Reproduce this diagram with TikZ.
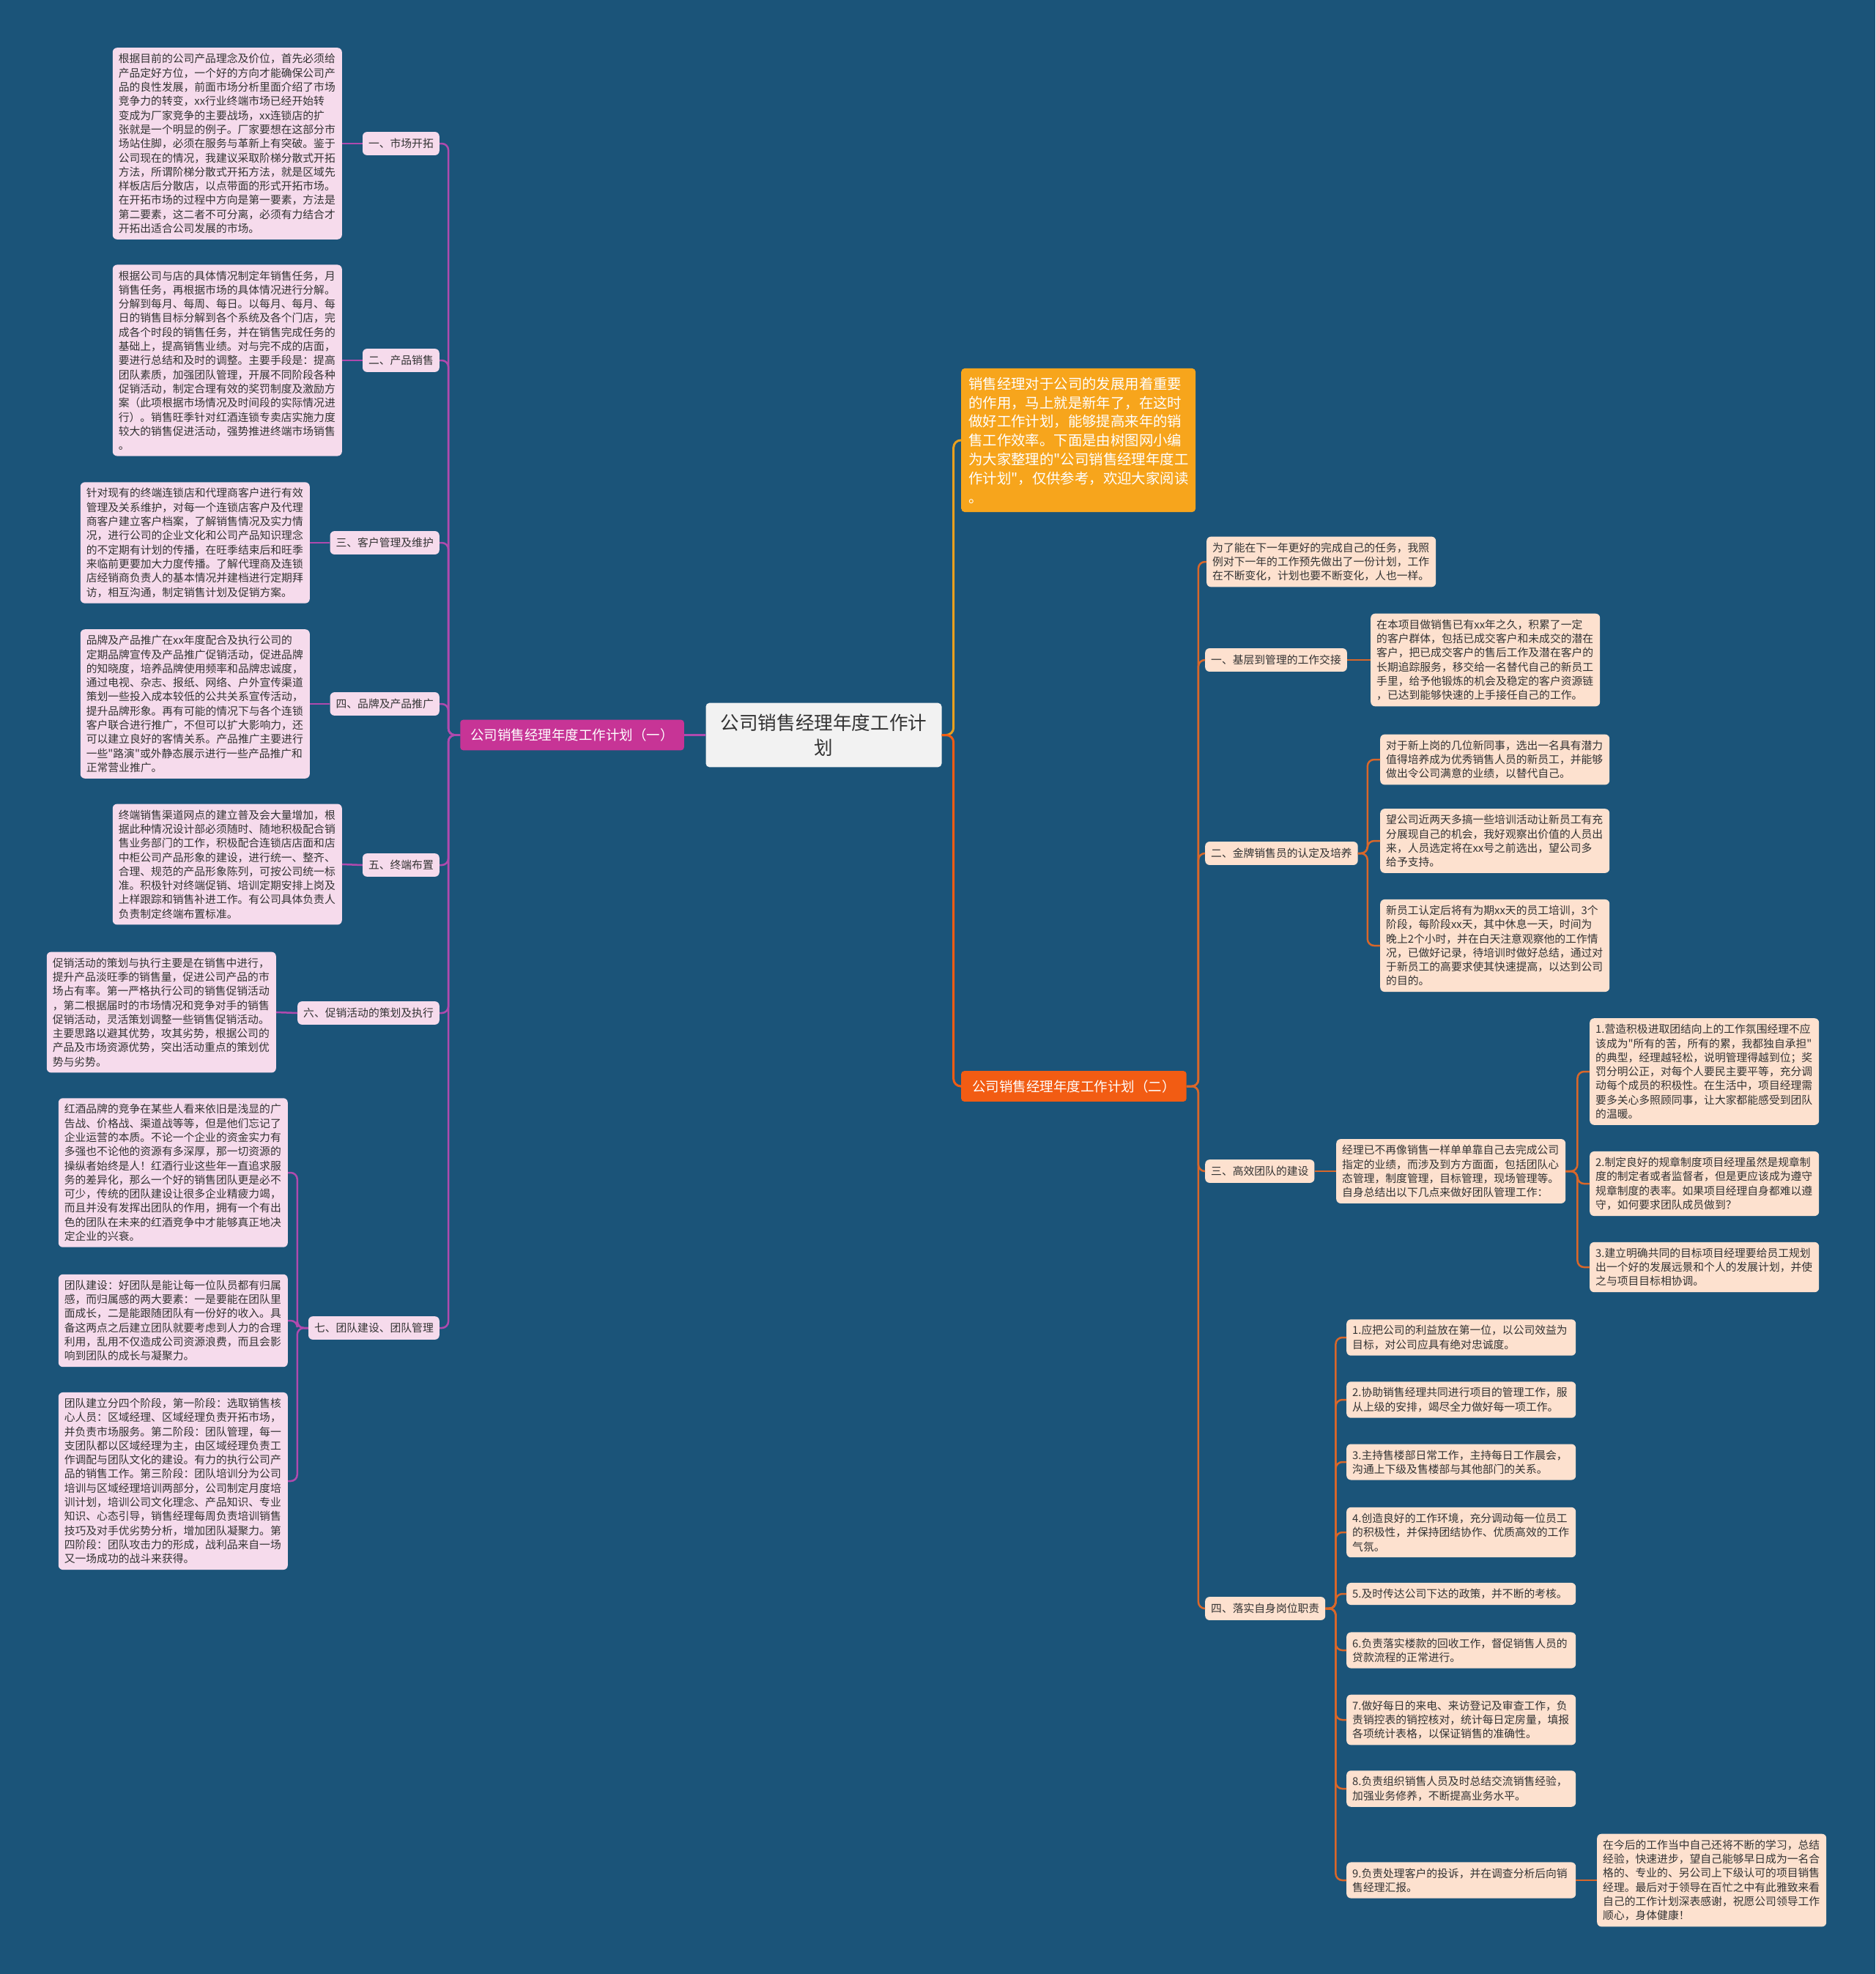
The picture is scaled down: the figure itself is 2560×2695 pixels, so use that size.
\documentclass[tikz,border=0pt]{standalone}
\usepackage{fontspec}
\setmainfont{Noto Sans CJK SC}[Ligatures=TeXOff]
\usetikzlibrary{calc}
\definecolor{bgc}{HTML}{1B5479}
\definecolor{lpink}{HTML}{F6DBEC}
\definecolor{rpeach}{HTML}{FDE1CF}
\definecolor{magbox}{HTML}{C73496}
\definecolor{magline}{HTML}{B04AAE}
\definecolor{orgline}{HTML}{D9672A}
\definecolor{redbox}{HTML}{F25C13}
\definecolor{ylwbox}{HTML}{F7A51C}
\definecolor{ylwline}{HTML}{E9A01E}
\definecolor{ctrbox}{HTML}{F2F2F2}
\definecolor{txtc}{HTML}{333333}
\newcommand\ftxt{\fontsize{14.8pt}{19.3pt}\selectfont}
\newcommand\fmain{\fontsize{18.5pt}{22pt}\selectfont}
\newcommand\fctr{\fontsize{25.6pt}{34pt}\selectfont}
\newcommand\fintro{\fontsize{19.4pt}{25.8pt}\selectfont}
\tikzset{
  ltxt/.style={rectangle, rounded corners=6pt, fill=lpink, text=txtc, align=left, text width=297pt, inner xsep=8pt, inner ysep=8pt, font=\ftxt},
  llab/.style={rectangle, rounded corners=6pt, fill=lpink, text=txtc, inner xsep=8pt, inner ysep=9pt, font=\ftxt},
  rtxt/.style={rectangle, rounded corners=6pt, fill=rpeach, text=txtc, align=left, text width=297pt, inner xsep=8pt, inner ysep=8pt, font=\ftxt},
  rlab/.style={rectangle, rounded corners=6pt, fill=rpeach, text=txtc, inner xsep=8pt, inner ysep=9pt, font=\ftxt},
  lline/.style={draw=magline, line width=2.5pt, rounded corners=9pt},
  rline/.style={draw=orgline, line width=2.5pt, rounded corners=9pt},
}
\begin{document}
\begin{tikzpicture}[x=1pt,y=-1pt]
\fill[bgc] (0,0) rectangle (2560,2695);
\useasboundingbox (0,0) rectangle (2560,2695);

% center and main branches
\node[rectangle, rounded corners=5pt, fill=ctrbox, text=txtc, align=center, text width=282pt, inner xsep=20pt, inner ysep=15pt, font=\fctr] (ctr) at (1124.5,1003.5) {公司销售经理年度工作计\\划};
\node[rectangle, rounded corners=4pt, fill=magbox, text=white, inner xsep=14pt, inner ysep=12pt, font=\fmain, anchor=east] (br1) at (934,1003.5) {公司销售经理年度工作计划（一）};
\node[rectangle, rounded corners=4pt, fill=redbox, text=white, inner xsep=15pt, inner ysep=12pt, font=\fmain, anchor=west] (br2) at (1312,1483) {公司销售经理年度工作计划（二）};
\node[rectangle, rounded corners=5pt, fill=ylwbox, text=white, align=left, text width=300pt, inner xsep=10pt, inner ysep=12pt, font=\fintro, anchor=west] (intro) at (1312,601) {销售经理对于公司的发展用着重要\\的作用，马上就是新年了，在这时\\做好工作计划，能够提高来年的销\\售工作效率。下面是由树图网小编\\为大家整理的"公司销售经理年度工\\作计划"，仅供参考，欢迎大家阅读\\。};

% left labels
\node[llab, anchor=east] (l1) at (600,196) {一、市场开拓};
\node[llab, anchor=east] (l2) at (600,492) {二、产品销售};
\node[llab, anchor=east] (l3) at (600,741) {三、客户管理及维护};
\node[llab, anchor=east] (l4) at (600,961) {四、品牌及产品推广};
\node[llab, anchor=east] (l5) at (600,1181) {五、终端布置};
\node[llab, anchor=east] (l6) at (600,1383) {六、促销活动的策划及执行};
\node[llab, anchor=east] (l7) at (600,1813) {七、团队建设、团队管理};

% left texts
\node[ltxt, anchor=east] (t1) at (467,196) {根据目前的公司产品理念及价位，首先必须给\\产品定好方位，一个好的方向才能确保公司产\\品的良性发展，前面市场分析里面介绍了市场\\竞争力的转变，xx行业终端市场已经开始转\\变成为厂家竞争的主要战场，xx连锁店的扩\\张就是一个明显的例子。厂家要想在这部分市\\场站住脚，必须在服务与革新上有突破。鉴于\\公司现在的情况，我建议采取阶梯分散式开拓\\方法，所谓阶梯分散式开拓方法，就是区域先\\样板店后分散店，以点带面的形式开拓市场。\\在开拓市场的过程中方向是第一要素，方法是\\第二要素，这二者不可分离，必须有力结合才\\开拓出适合公司发展的市场。};
\node[ltxt, anchor=east] (t2) at (467,492) {根据公司与店的具体情况制定年销售任务，月\\销售任务，再根据市场的具体情况进行分解。\\分解到每月、每周、每日。以每月、每月、每\\日的销售目标分解到各个系统及各个门店，完\\成各个时段的销售任务，并在销售完成任务的\\基础上，提高销售业绩。对与完不成的店面，\\要进行总结和及时的调整。主要手段是：提高\\团队素质，加强团队管理，开展不同阶段各种\\促销活动，制定合理有效的奖罚制度及激励方\\案（此项根据市场情况及时间段的实际情况进\\行）。销售旺季针对红酒连锁专卖店实施力度\\较大的销售促进活动，强势推进终端市场销售\\。};
\node[ltxt, anchor=east] (t3) at (423,741) {针对现有的终端连锁店和代理商客户进行有效\\管理及关系维护，对每一个连锁店客户及代理\\商客户建立客户档案，了解销售情况及实力情\\况，进行公司的企业文化和公司产品知识理念\\的不定期有计划的传播，在旺季结束后和旺季\\来临前更要加大力度传播。了解代理商及连锁\\店经销商负责人的基本情况并建档进行定期拜\\访，相互沟通，制定销售计划及促销方案。};
\node[ltxt, anchor=east] (t4) at (423,961) {品牌及产品推广在xx年度配合及执行公司的\\定期品牌宣传及产品推广促销活动，促进品牌\\的知晓度，培养品牌使用频率和品牌忠诚度，\\通过电视、杂志、报纸、网络、户外宣传渠道\\策划一些投入成本较低的公共关系宣传活动，\\提升品牌形象。再有可能的情况下与各个连锁\\客户联合进行推广，不但可以扩大影响力，还\\可以建立良好的客情关系。产品推广主要进行\\一些"路演"或外静态展示进行一些产品推广和\\正常营业推广。};
\node[ltxt, anchor=east] (t5) at (467,1180) {终端销售渠道网点的建立普及会大量增加，根\\据此种情况设计部必须随时、随地积极配合销\\售业务部门的工作，积极配合连锁店店面和店\\中柜公司产品形象的建设，进行统一、整齐、\\合理、规范的产品形象陈列，可按公司统一标\\准。积极针对终端促销、培训定期安排上岗及\\上样跟踪和销售补进工作。有公司具体负责人\\负责制定终端布置标准。};
\node[ltxt, anchor=east] (t6) at (377,1382) {促销活动的策划与执行主要是在销售中进行，\\提升产品淡旺季的销售量，促进公司产品的市\\场占有率。第一严格执行公司的销售促销活动\\，第二根据届时的市场情况和竞争对手的销售\\促销活动，灵活策划调整一些销售促销活动。\\主要思路以避其优势，攻其劣势，根据公司的\\产品及市场资源优势，突出活动重点的策划优\\势与劣势。};
\node[ltxt, anchor=east] (t7a) at (393,1601) {红酒品牌的竞争在某些人看来依旧是浅显的广\\告战、价格战、渠道战等等，但是他们忘记了\\企业运营的本质。不论一个企业的资金实力有\\多强也不论他的资源有多深厚，那一切资源的\\操纵者始终是人！红酒行业这些年一直追求服\\务的差异化，那么一个好的销售团队更是必不\\可少，传统的团队建设让很多企业精疲力竭，\\而且并没有发挥出团队的作用，拥有一个有出\\色的团队在未来的红酒竞争中才能够真正地决\\定企业的兴衰。};
\node[ltxt, anchor=east] (t7b) at (393,1803) {团队建设：好团队是能让每一位队员都有归属\\感，而归属感的两大要素：一是要能在团队里\\面成长，二是能跟随团队有一份好的收入。具\\备这两点之后建立团队就要考虑到人力的合理\\利用，乱用不仅造成公司资源浪费，而且会影\\响到团队的成长与凝聚力。};
\node[ltxt, anchor=east] (t7c) at (393,2022) {团队建立分四个阶段，第一阶段：选取销售核\\心人员：区域经理、区域经理负责开拓市场，\\并负责市场服务。第二阶段：团队管理，每一\\支团队都以区域经理为主，由区域经理负责工\\作调配与团队文化的建设。有力的执行公司产\\品的销售工作。第三阶段：团队培训分为公司\\培训与区域经理培训两部分，公司制定月度培\\训计划，培训公司文化理念、产品知识、专业\\知识、心态引导，销售经理每周负责培训销售\\技巧及对手优劣势分析，增加团队凝聚力。第\\四阶段：团队攻击力的形成，战利品来自一场\\又一场成功的战斗来获得。};

% right side
\node[rtxt, anchor=west] (r0) at (1647,767) {为了能在下一年更好的完成自己的任务，我照\\例对下一年的工作预先做出了一份计划，工作\\在不断变化，计划也要不断变化，人也一样。};
\node[rlab, anchor=west] (ra) at (1645,901) {一、基层到管理的工作交接};
\node[rtxt, anchor=west] (ra1) at (1871,901) {在本项目做销售已有xx年之久，积累了一定\\的客户群体，包括已成交客户和未成交的潜在\\客户，把已成交客户的售后工作及潜在客户的\\长期追踪服务，移交给一名替代自己的新员工\\手里，给予他锻炼的机会及稳定的客户资源链\\，已达到能够快速的上手接任自己的工作。};
\node[rlab, anchor=west] (rb) at (1645,1165) {二、金牌销售员的认定及培养};
\node[rtxt, anchor=west] (rb1) at (1884,1037) {对于新上岗的几位新同事，选出一名具有潜力\\值得培养成为优秀销售人员的新员工，并能够\\做出令公司满意的业绩，以替代自己。};
\node[rtxt, anchor=west] (rb2) at (1884,1148) {望公司近两天多搞一些培训活动让新员工有充\\分展现自己的机会，我好观察出价值的人员出\\来，人员选定将在xx号之前选出，望公司多\\给予支持。};
\node[rtxt, anchor=west] (rb3) at (1884,1291) {新员工认定后将有为期xx天的员工培训，3个\\阶段，每阶段xx天，其中休息一天，时间为\\晚上2个小时，并在白天注意观察他的工作情\\况，已做好记录，待培训时做好总结，通过对\\于新员工的高要求使其快速提高，以达到公司\\的目的。};
\node[rlab, anchor=west] (rc) at (1645,1599) {三、高效团队的建设};
\node[rtxt, anchor=west] (rc0) at (1824,1599) {经理已不再像销售一样单单靠自己去完成公司\\指定的业绩，而涉及到方方面面，包括团队心\\态管理，制度管理，目标管理，现场管理等。\\自身总结出以下几点来做好团队管理工作：};
\node[rtxt, anchor=west] (rc1) at (2170,1463) {1.营造积极进取团结向上的工作氛围经理不应\\该成为"所有的苦，所有的累，我都独自承担"\\的典型，经理越轻松，说明管理得越到位；奖\\罚分明公正，对每个人要民主要平等，充分调\\动每个成员的积极性。在生活中，项目经理需\\要多关心多照顾同事，让大家都能感受到团队\\的温暖。};
\node[rtxt, anchor=west] (rc2) at (2170,1616) {2.制定良好的规章制度项目经理虽然是规章制\\度的制定者或者监督者，但是更应该成为遵守\\规章制度的表率。如果项目经理自身都难以遵\\守，如何要求团队成员做到？};
\node[rtxt, anchor=west] (rc3) at (2170,1730) {3.建立明确共同的目标项目经理要给员工规划\\出一个好的发展远景和个人的发展计划，并使\\之与项目目标相协调。};
\node[rlab, anchor=west] (rd) at (1645,2196) {四、落实自身岗位职责};
\node[rtxt, anchor=west] (rd1) at (1838,1826) {1.应把公司的利益放在第一位，以公司效益为\\目标，对公司应具有绝对忠诚度。};
\node[rtxt, anchor=west] (rd2) at (1838,1911) {2.协助销售经理共同进行项目的管理工作，服\\从上级的安排，竭尽全力做好每一项工作。};
\node[rtxt, anchor=west] (rd3) at (1838,1996) {3.主持售楼部日常工作，主持每日工作晨会，\\沟通上下级及售楼部与其他部门的关系。};
\node[rtxt, anchor=west] (rd4) at (1838,2092) {4.创造良好的工作环境，充分调动每一位员工\\的积极性，并保持团结协作、优质高效的工作\\气氛。};
\node[rtxt, anchor=west] (rd5) at (1838,2176) {5.及时传达公司下达的政策，并不断的考核。};
\node[rtxt, anchor=west] (rd6) at (1838,2253) {6.负责落实楼款的回收工作，督促销售人员的\\贷款流程的正常进行。};
\node[rtxt, anchor=west] (rd7) at (1838,2348) {7.做好每日的来电、来访登记及审查工作，负\\责销控表的销控核对，统计每日定房量，填报\\各项统计表格，以保证销售的准确性。};
\node[rtxt, anchor=west] (rd8) at (1838,2442) {8.负责组织销售人员及时总结交流销售经验，\\加强业务修养，不断提高业务水平。};
\node[rtxt, anchor=west] (rd9) at (1838,2567) {9.负责处理客户的投诉，并在调查分析后向销\\售经理汇报。};
\node[rtxt, anchor=west] (rd9a) at (2180,2567) {在今后的工作当中自己还将不断的学习，总结\\经验，快速进步，望自己能够早日成为一名合\\格的、专业的、另公司上下级认可的项目销售\\经理。最后对于领导在百忙之中有此雅致来看\\自己的工作计划深表感谢，祝愿公司领导工作\\顺心，身体健康！};

% connectors: center
\draw[draw=magline, line width=3pt] (ctr.west) -- (br1.east);
\draw[draw=ylwline, line width=3pt, rounded corners=10pt] (ctr.east) -- ++(16,0) |- (intro.west);
\draw[draw=redbox, line width=3pt, rounded corners=10pt] (ctr.east) -- ++(16,0) |- (br2.west);
% left
\foreach \n in {l1,l2,l3,l4,l5,l6,l7} \draw[lline] (br1.west) -- ++(-16,0) |- (\n.east);
\foreach \a/\b in {l1/t1,l2/t2,l3/t3,l4/t4,l5/t5,l6/t6} \draw[lline] (\a.west) -- (\b.east);
\foreach \n in {t7a,t7b,t7c} \draw[lline] (l7.west) -- ++(-15,0) |- (\n.east);
% right
\foreach \n in {r0,ra,rb,rc,rd} \draw[rline] (br2.east) -- ++(16,0) |- (\n.west);
\draw[rline] (ra.east) -- (ra1.west);
\foreach \n in {rb1,rb2,rb3} \draw[rline] (rb.east) -- ++(13,0) |- (\n.west);
\draw[rline] (rc.east) -- (rc0.west);
\foreach \n in {rc1,rc2,rc3} \draw[rline] (rc0.east) -- ++(16,0) |- (\n.west);
\foreach \n in {rd1,rd2,rd3,rd4,rd5,rd6,rd7,rd8,rd9} \draw[rline] (rd.east) -- ++(14,0) |- (\n.west);
\draw[rline] (rd9.east) -- (rd9a.west);
\end{tikzpicture}
\end{document}
